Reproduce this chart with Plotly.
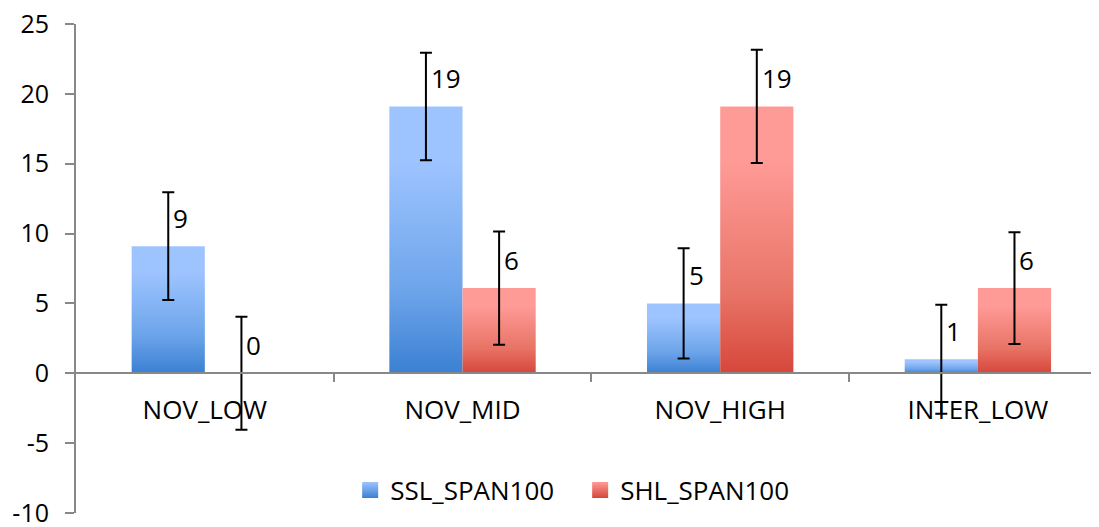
import plotly.graph_objects as go

# chart data
categories = ["NOV_LOW", "NOV_MID", "NOV_HIGH", "INTER_LOW"]
ssl_values = [9.1, 19.1, 5.0, 1.0]
ssl_errors = [3.85, 3.85, 3.95, 3.9]
shl_values = [0.0, 6.1, 19.1, 6.1]
shl_errors = [4.05, 4.05, 4.05, 4.0]
value_labels = {"SSL_SPAN100": ["9", "19", "5", "1"], "SHL_SPAN100": ["0", "6", "19", "6"]}
y_ticks = [-10, -5, 0, 5, 10, 15, 20, 25]
y_ticktext = ["-10", "-5", "0", "5", "10", "15", "20", "25"]

# name, values, errors, (dark, mid, light) gradient colours, side of the category
series = [
    ("SSL_SPAN100", ssl_values, ssl_errors, ("#3b80d2", "#6ca4ea", "#9ec4ff"), -1),
    ("SHL_SPAN100", shl_values, shl_errors, ("#d6473b", "#e87467", "#ff9b97"), 1),
]

font_family = "Open Sans, Lato, sans-serif"
axis_gray = "#888888"
bar_w = 0.284  # in category units

fig = go.Figure()
annotations = []

for name, values, errors, (dark, mid, light), side in series:
    centers = [i + side * bar_w / 2 for i in range(len(categories))]
    # bars as filled rectangles so each one can carry a vertical gradient
    for cx, v in zip(centers, values):
        x0, x1 = cx - bar_w / 2, cx + bar_w / 2
        fig.add_trace(go.Scatter(
            x=[x0, x0, x1, x1, x0], y=[0, v, v, 0, 0],
            mode="lines", line=dict(width=0), fill="toself",
            fillgradient=dict(type="vertical", start=0, stop=v,
                              colorscale=[[0, dark], [0.3, mid], [0.8, light], [1, light]]),
            showlegend=False, hoverinfo="skip",
        ))
    # error bars
    fig.add_trace(go.Scatter(
        x=centers, y=values, mode="markers",
        marker=dict(size=1, color="rgba(0,0,0,0)"),
        error_y=dict(type="data", array=errors, color="black", thickness=2, width=6),
        showlegend=False,
    ))
    # legend swatch
    fig.add_trace(go.Scatter(
        x=[None], y=[None], mode="markers", name=name,
        marker=dict(symbol="square", size=16, color=light,
                    gradient=dict(type="vertical", color=dark)),
    ))
    for cx, v, lab in zip(centers, values, value_labels[name]):
        annotations.append(dict(
            x=cx, y=v, text=lab, showarrow=False, xanchor="left", yanchor="middle",
            xshift=3, yshift=28, font=dict(family=font_family, size=26, color="black"),
        ))

# the page body adds an 8px margin, so the figure is sized/offset to match
fig.update_layout(
    width=1091, height=519,
    margin=dict(l=68, r=0, t=16, b=14),
    paper_bgcolor="white", plot_bgcolor="white",
    font=dict(family=font_family, size=26, color="black"),
    annotations=annotations,
    legend=dict(orientation="h", x=0.268, xanchor="left", y=0.047, yanchor="middle",
                entrywidth=185, bgcolor="rgba(0,0,0,0)", font=dict(size=26)),
    xaxis=dict(
        range=[-0.5, 3.47], showgrid=False, zeroline=False, automargin=False,
        tickmode="array", tickvals=list(range(len(categories))), ticktext=categories,
        ticks="", ticklabelstandoff=14, tickfont=dict(size=26),
        showline=True, linecolor=axis_gray, linewidth=2,
        anchor="free", position=10 / 35,
        minor=dict(tickmode="array", tickvals=[0.5, 1.5, 2.5], ticks="outside",
                   ticklen=8, tickwidth=2, tickcolor=axis_gray, showgrid=False),
    ),
    yaxis=dict(
        range=[-10, 25], tickmode="array", tickvals=y_ticks, ticktext=y_ticktext,
        showgrid=False, zeroline=False, automargin=False,
        showline=True, linecolor=axis_gray, linewidth=2,
        ticks="outside", ticklen=9, tickwidth=2, tickcolor=axis_gray,
        ticklabelstandoff=11, ticklabeloverflow="allow", tickfont=dict(size=25),
    ),
)

fig.write_html("out.html")
